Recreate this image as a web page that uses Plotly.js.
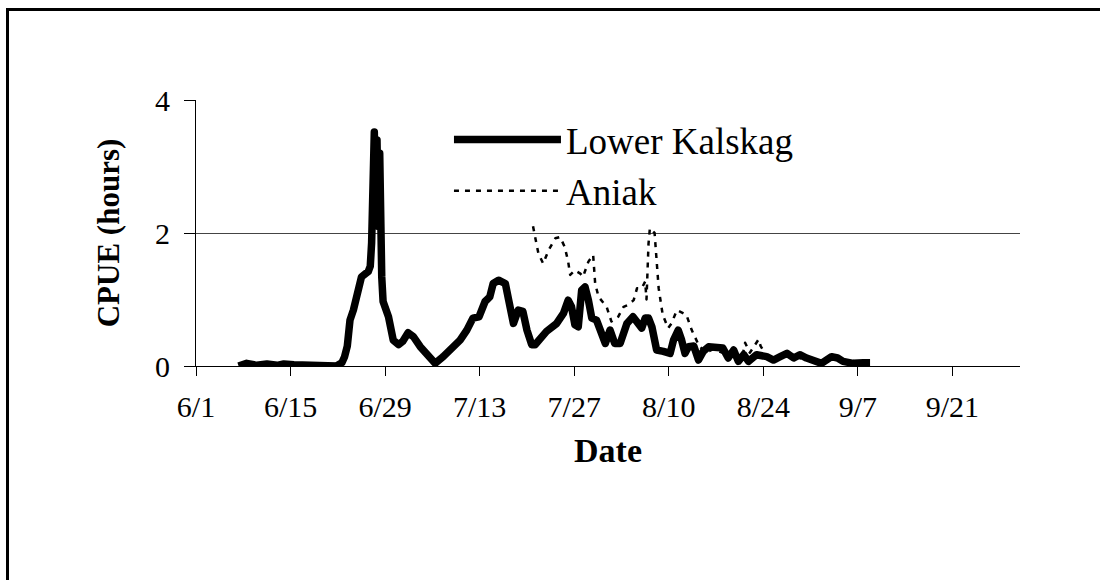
<!DOCTYPE html>
<html>
<head>
<meta charset="utf-8">
<script src="https://cdn.plot.ly/plotly-3.0.1.min.js"></script>
<style>
html,body{margin:0;padding:0;background:#fff;overflow:hidden;}
#wrap{position:relative;width:1102px;height:580px;overflow:hidden;}
#chart{width:1102px;height:580px;}
#frame{position:absolute;left:6px;top:8px;width:1091px;height:2000px;
       border-left:3px solid #000;border-top:3px solid #000;pointer-events:none;}
.scatterlayer .js-line{stroke-linejoin:round !important;}
</style>
</head>
<body>
<div id="wrap"><div id="chart"></div><div id="frame"></div></div>
<script>
// Days after June 1 and CPUE values
const kalskagDays = [6.3,7.5,9,10.5,12,13,14.5,16,17.5,19,20.8,21.6,22,22.4,22.8,23.3,24,24.5,25.5,25.8,26.0,26.2,26.4,26.6,26.8,27.0,27.2,27.5,27.7,28.5,29.2,30,30.6,31.4,32.2,33.2,34.2,35.4,36.6,38.1,39.1,40.1,41,41.9,42.8,43.5,44,44.8,45.8,46.3,46.7,47.0,47.7,48.4,49,49.7,50.2,51.9,53.4,54.4,55.1,55.6,56.1,56.6,57.1,57.6,58.1,58.6,59.3,59.8,60.6,61.3,62,62.8,63.8,64.7,65.5,66.0,66.5,67.0,67.5,68.2,69.2,70.2,70.7,71.4,71.9,72.4,72.9,73.7,74.4,75.1,75.9,77.1,78,78.8,79.6,80.3,81.1,81.8,83,84.5,85.5,86.5,87.5,88.5,89.4,90.4,91.4,92.6,94.1,95,95.8,97.3,98.8,99.8];
const kalskagCPUE = [0,0.04,0.01,0.03,0.01,0.03,0.02,0.02,0.02,0.02,0,0.05,0.14,0.3,0.69,0.84,1.19,1.34,1.42,1.5,1.85,3.1,3.52,2.2,3.4,2.1,3.2,1.34,0.97,0.74,0.39,0.32,0.37,0.5,0.44,0.29,0.17,0.04,0.14,0.29,0.39,0.54,0.72,0.74,0.97,1.04,1.24,1.29,1.24,0.99,0.67,0.64,0.84,0.82,0.54,0.32,0.32,0.52,0.64,0.79,0.99,0.89,0.62,0.59,1.14,1.19,0.99,0.72,0.69,0.54,0.34,0.54,0.34,0.34,0.64,0.74,0.64,0.57,0.72,0.72,0.59,0.24,0.22,0.19,0.39,0.54,0.39,0.19,0.29,0.3,0.09,0.22,0.29,0.29,0.27,0.12,0.24,0.07,0.17,0.07,0.17,0.14,0.09,0.14,0.19,0.12,0.17,0.12,0.07,0.04,0.14,0.12,0.07,0.04,0.05,0.05];

const aniakDays = [49.9,50.3,50.7,51.4,52.2,53.2,53.9,54.6,55.1,55.4,56.1,56.9,57.3,58.1,58.8,59.1,59.6,60.8,61.5,62.5,63.3,64.0,64.8,65.3,66.0,66.5,66.7,67.0,67.2,67.9,68.2,68.5,68.8,69.1,69.9,70.4,71.2,72.0,72.6,73.4,74.5,75.5,76.5,78,79.5,81.0,81.3,82,83.3,83.6,84.5,86,88,90,92,94,95.5,96.5];
const aniakCPUE = [2.1,1.89,1.69,1.54,1.74,1.92,1.94,1.79,1.57,1.37,1.44,1.39,1.34,1.57,1.67,1.24,1.04,0.89,0.67,0.74,0.89,0.92,0.99,1.17,1.17,1.27,1.0,1.84,2.07,2.0,1.57,1.17,0.97,0.77,0.57,0.64,0.84,0.8,0.77,0.54,0.3,0.2,0.25,0.2,0.2,0.2,0.35,0.2,0.4,0.3,0.15,0.12,0.15,0.1,0.06,0.1,0.08,0.05];

const tickDays = [0,14,28,42,56,70,84,98,112];
const tickLabels = ['6/1','6/15','6/29','7/13','7/27','8/10','8/24','9/7','9/21'];

const serif = 'Liberation Serif, Times New Roman, serif';

const traces = [
  {x: aniakDays, y: aniakCPUE, type:'scatter', mode:'lines', name:'Aniak',
   line:{color:'#000', width:2.5, dash:'5px,6px'}, legendrank:2},
  {x: kalskagDays, y: kalskagCPUE, type:'scatter', mode:'lines', name:'Lower Kalskag',
   line:{color:'#000', width:7.5}, legendrank:1}
];

const layout = {
  width:1102, height:580,
  margin:{l:196, r:82, t:100, b:214},
  paper_bgcolor:'#fff', plot_bgcolor:'#fff',
  font:{family:serif, color:'#000', size:30},
  showlegend:true,
  legend:{x:0.307, y:0.966, xanchor:'left', yanchor:'top', bgcolor:'rgba(0,0,0,0)',
          font:{family:serif, size:37, color:'#000'}, itemwidth:107, tracegroupgap:0},
  xaxis:{range:[0,122], tickvals:tickDays, ticktext:tickLabels,
         showline:true, linecolor:'#000', linewidth:1, ticks:'outside', ticklen:9, tickcolor:'#000',
         showgrid:false, zeroline:false, tickfont:{family:serif, size:30}, ticklabelstandoff:5,
         title:{text:'<b>Date</b>', font:{family:serif, size:34}, standoff:16}},
  yaxis:{range:[0,4], tickvals:[0,2,4], showline:true, linecolor:'#000', linewidth:1,
         ticks:'outside', ticklen:11, tickcolor:'#000',
         showgrid:true, gridcolor:'#444', gridwidth:1, zeroline:false,
         tickfont:{family:serif, size:30}, ticklabelstandoff:8,
         title:{text:'<b>CPUE (hours)</b>', font:{family:serif, size:31}, standoff:26}}
};

Plotly.newPlot('chart', traces, layout, {displayModeBar:false, staticPlot:true});
</script>
</body>
</html>
